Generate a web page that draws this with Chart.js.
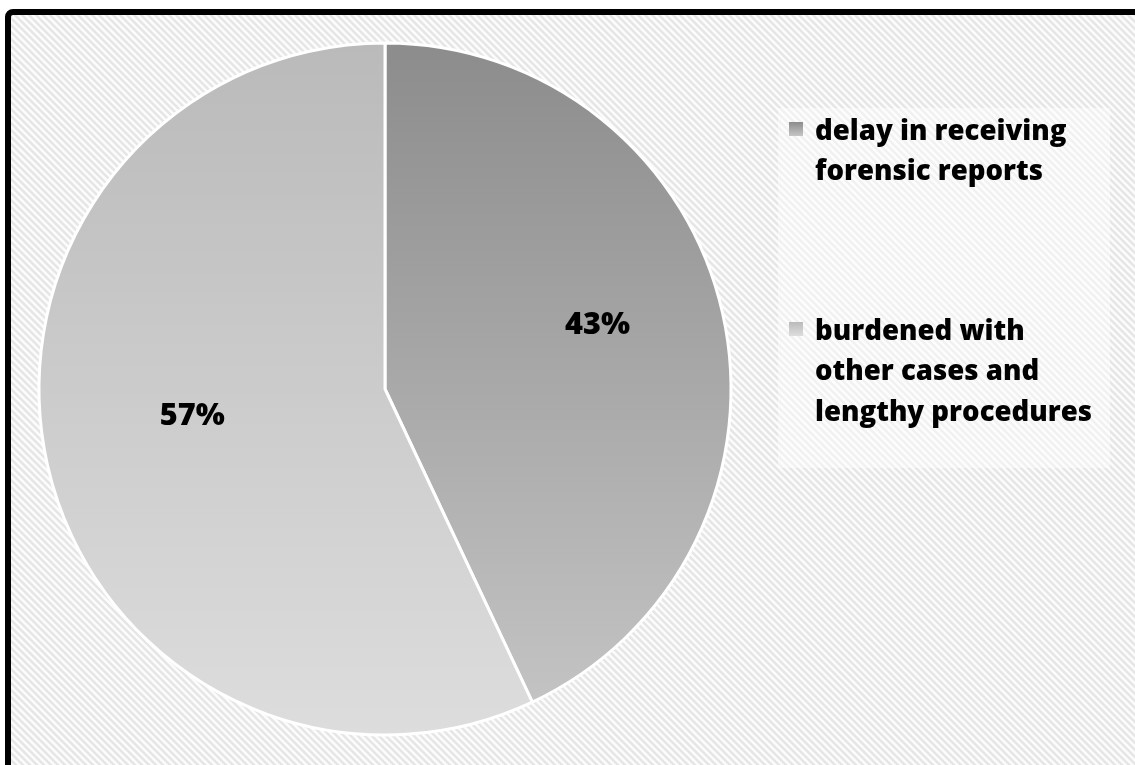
<!DOCTYPE html>
<html>
<head>
<meta charset="utf-8">
<script src="https://cdn.jsdelivr.net/npm/chart.js@4/dist/chart.umd.min.js"></script>
<style>
  html, body { margin: 0; padding: 0; background: #ffffff; }
  #wrap { width: 1135px; height: 765px; position: relative; }
</style>
</head>
<body>
<div id="wrap"><canvas id="pie" width="1135" height="765"></canvas></div>
<script>
// Reasons for delays
const categories = [
  ['delay in receiving', 'forensic reports'],
  ['burdened with', 'other cases and', 'lengthy procedures']
];
const shares = [43, 57];
// top / bottom shade of each slice's vertical gradient
const sliceShadesTop = ['#8c8c8c', '#bababa'];
const sliceShadesBottom = ['#c6c6c6', '#dddddd'];

const FONT = '"Open Sans", Lato, "Liberation Sans", sans-serif';
const WEIGHT = '800';

// Diagonal hatch used for the chart background
function hatchPattern(ctx) {
  const t = document.createElement('canvas');
  t.width = 7; t.height = 7;
  const c = t.getContext('2d');
  c.fillStyle = '#fcfcfc';
  c.fillRect(0, 0, 7, 7);
  c.strokeStyle = '#e6e6e6';
  c.lineWidth = 2.6;
  c.beginPath();
  c.moveTo(-2, -2); c.lineTo(9, 9);
  c.moveTo(-9, -2); c.lineTo(2, 9);
  c.moveTo(5, -2); c.lineTo(16, 9);
  c.stroke();
  return ctx.createPattern(t, 'repeat');
}

function sliceGradient(context) {
  const chart = context.chart;
  const area = chart.chartArea;
  const i = context.dataIndex;
  if (!area) return sliceShadesTop[i];
  const g = chart.ctx.createLinearGradient(0, area.top, 0, area.bottom);
  g.addColorStop(0, sliceShadesTop[i]);
  g.addColorStop(1, sliceShadesBottom[i]);
  return g;
}

const backdrop = {
  id: 'backdrop',
  beforeDraw(chart) {
    const ctx = chart.ctx;
    ctx.save();
    ctx.fillStyle = '#ffffff';
    ctx.fillRect(0, 0, chart.width, chart.height);
    ctx.fillStyle = hatchPattern(ctx);
    ctx.fillRect(8, 12, chart.width, chart.height);
    // frame
    ctx.strokeStyle = '#000000';
    ctx.lineWidth = 6;
    ctx.beginPath();
    ctx.roundRect(8, 12, chart.width + 20, chart.height + 20, 5);
    ctx.stroke();
    // legend panel
    ctx.fillStyle = 'rgba(255,255,255,0.45)';
    ctx.fillRect(778, 108, 332, 360);
    ctx.restore();
  }
};

// font size that makes the widest line span the given width
function fitSize(ctx, lines, width) {
  ctx.font = WEIGHT + ' 100px ' + FONT;
  const w = Math.max(...lines.map(l => ctx.measureText(l).width));
  return 100 * width / w;
}

const sideLegend = {
  id: 'sideLegend',
  afterDraw(chart) {
    const ctx = chart.ctx;
    const labels = chart.data.labels;
    const tops = [122, 322];
    ctx.save();
    const size = fitSize(ctx, labels.flat(), 277);
    ctx.font = WEIGHT + ' ' + size.toFixed(1) + 'px ' + FONT;
    ctx.textBaseline = 'middle';
    labels.forEach((lines, i) => {
      const y0 = tops[i];
      const g = ctx.createLinearGradient(0, y0, 0, y0 + 14);
      g.addColorStop(0, sliceShadesTop[i]);
      g.addColorStop(1, sliceShadesBottom[i]);
      ctx.fillStyle = g;
      ctx.fillRect(789, y0, 14, 14);
      ctx.fillStyle = '#000000';
      lines.forEach((line, k) => {
        ctx.fillText(line, 815, y0 + 10 + k * 40.5);
      });
    });
    ctx.restore();
  }
};

const valueLabels = {
  id: 'valueLabels',
  afterDatasetsDraw(chart) {
    const ctx = chart.ctx;
    const meta = chart.getDatasetMeta(0);
    const values = chart.data.datasets[0].data;
    const total = values.reduce((a, b) => a + b, 0);
    ctx.save();
    const size = fitSize(ctx, ['43%'], 65);
    ctx.font = WEIGHT + ' ' + size.toFixed(1) + 'px ' + FONT;
    ctx.fillStyle = '#000000';
    ctx.textAlign = 'center';
    ctx.textBaseline = 'middle';
    meta.data.forEach((arc, i) => {
      const mid = (arc.startAngle + arc.endAngle) / 2;
      const r = arc.outerRadius * 0.6;
      const x = arc.x + Math.cos(mid) * r + 10;
      const y = arc.y + Math.sin(mid) * r - 18;
      ctx.fillText(Math.round(values[i] / total * 100) + '%', x, y);
    });
    ctx.restore();
  }
};

new Chart(document.getElementById('pie'), {
  type: 'pie',
  data: {
    labels: categories,
    datasets: [{
      data: shares,
      backgroundColor: sliceGradient,
      borderColor: '#ffffff',
      borderWidth: 3
    }]
  },
  options: {
    responsive: false,
    animation: false,
    layout: { padding: { left: 37.5, top: 41.5, right: 402.5, bottom: 28.5 } },
    plugins: {
      legend: { display: false },
      tooltip: { enabled: false }
    }
  },
  plugins: [backdrop, sideLegend, valueLabels]
});
</script>
</body>
</html>
